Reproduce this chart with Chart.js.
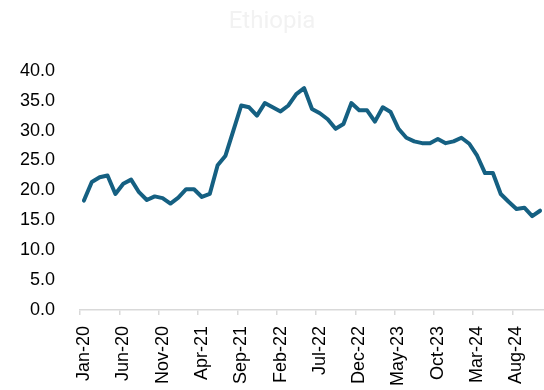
<!DOCTYPE html>
<html>
<head>
<meta charset="utf-8">
<script src="https://cdn.jsdelivr.net/npm/chart.js@4/dist/chart.umd.min.js"></script>
<style>
  html, body { margin: 0; padding: 0; background: #fff; }
  #wrap { width: 544px; height: 390px; }
</style>
</head>
<body>
<div id="wrap"><canvas id="chart"></canvas></div>
<script>
// monthly, Jan-20 .. Nov-24
const months = [
  'Jan-20','Feb-20','Mar-20','Apr-20','May-20','Jun-20','Jul-20','Aug-20','Sep-20','Oct-20','Nov-20','Dec-20',
  'Jan-21','Feb-21','Mar-21','Apr-21','May-21','Jun-21','Jul-21','Aug-21','Sep-21','Oct-21','Nov-21','Dec-21',
  'Jan-22','Feb-22','Mar-22','Apr-22','May-22','Jun-22','Jul-22','Aug-22','Sep-22','Oct-22','Nov-22','Dec-22',
  'Jan-23','Feb-23','Mar-23','Apr-23','May-23','Jun-23','Jul-23','Aug-23','Sep-23','Oct-23','Nov-23','Dec-23',
  'Jan-24','Feb-24','Mar-24','Apr-24','May-24','Jun-24','Jul-24','Aug-24','Sep-24','Oct-24','Nov-24'
];

const inflation = [
  18.3, 21.4, 22.2, 22.5, 19.4, 21.1, 21.8, 19.7, 18.4, 19.0, 18.7, 17.8,
  18.8, 20.2, 20.2, 18.9, 19.4, 24.2, 25.8, 30.0, 34.2, 33.9, 32.5, 34.6,
  33.9, 33.2, 34.2, 36.1, 37.1, 33.6, 32.9, 31.9, 30.3, 31.1, 34.6, 33.4,
  33.4, 31.5, 33.9, 33.1, 30.3, 28.8, 28.2, 27.9, 27.9, 28.6, 27.9, 28.2,
  28.8, 27.8, 25.8, 22.9, 22.9, 19.4, 18.1, 16.9, 17.1, 15.7, 16.6
];

const yTicks = [0, 5, 10, 15, 20, 25, 30, 35, 40];

const font = 'Liberation Sans, Arial, sans-serif';

new Chart(document.getElementById('chart'), {
  type: 'line',
  data: {
    labels: months,
    datasets: [{
      label: 'Ethiopia',
      data: inflation,
      borderColor: '#156082',
      borderWidth: 4,
      pointRadius: 0,
      tension: 0,
      borderJoinStyle: 'round',
      borderCapStyle: 'round'
    }]
  },
  options: {
    responsive: true,
    maintainAspectRatio: false,
    animation: false,
    layout: { padding: { left: 0, right: 0, top: 0, bottom: 0 } },
    plugins: {
      legend: { display: false },
      tooltip: { enabled: false },
      title: {
        display: true,
        text: 'Ethiopia',
        color: '#f2f2f2',
        font: { family: 'Roboto, sans-serif', size: 24, weight: 'normal' },
        padding: { top: 8, bottom: 34 }
      }
    },
    scales: {
      x: {
        type: 'category',
        offset: true,
        grid: {
          offset: true,
          drawOnChartArea: false,
          drawTicks: true,
          tickLength: 5,
          lineWidth: 1.5,
          color: (ctx) => ctx.index % 5 === 0 ? '#d9d9d9' : 'rgba(0,0,0,0)'
        },
        border: { display: true, color: '#d9d9d9', width: 1.5 },
        ticks: {
          autoSkip: false,
          maxRotation: 90,
          minRotation: 90,
          padding: 11,
          color: '#000',
          font: { family: font, size: 18 },
          callback: (v, i) => i % 5 === 0 ? months[i] : ''
        },
        afterFit: (scale) => {
          scale.height = 80;
          scale.paddingLeft = 0;
          scale.paddingRight = 0;
        }
      },
      y: {
        min: 0,
        max: 40,
        afterBuildTicks: (scale) => { scale.ticks = yTicks.map(v => ({ value: v })); },
        grid: { display: false, drawTicks: false },
        border: { display: false },
        ticks: {
          padding: 25,
          color: '#000',
          font: { family: font, size: 18 },
          callback: (v) => Number(v).toFixed(1)
        },
        afterFit: (scale) => { scale.width = 80; }
      }
    }
  }
});
</script>
</body>
</html>
